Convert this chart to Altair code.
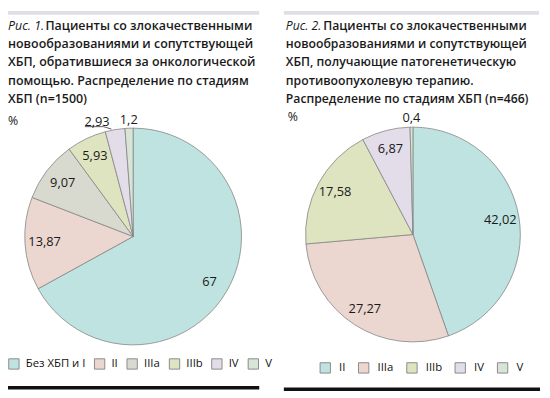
import altair as alt
import pandas as pd

# ---- data ----
left_cats = ["Без ХБП и I", "II", "IIIa", "IIIb", "IV", "V"]
left_vals = [67, 13.87, 9.07, 5.93, 2.93, 1.2]
left_labels = ["67", "13,87", "9,07", "5,93", "2,93", "1,2"]
left_colors = ["#bfe3e0", "#ecd6d0", "#d8d9cf", "#dfe4c0", "#e3dce9", "#d6e5d6"]

right_cats = ["II", "IIIa", "IIIb", "IV", "V"]
right_vals = [42.02, 27.27, 17.58, 6.87, 0.4]
right_labels = ["42,02", "27,27", "17,58", "6,87", "0,4"]
right_colors = ["#bfe3e0", "#ecd6d0", "#dfe4c0", "#e3dce9", "#d6e5d6"]

left_title_lines = ["новообразованиями и сопутствующей",
                    "ХБП, обратившиеся за онкологической",
                    "помощью. Распределение по стадиям",
                    "ХБП (n=1500)"]
left_title_first = "Пациенты со злокачественными"
right_title_lines = ["новообразованиями и сопутствующей",
                     "ХБП, получающие патогенетическую",
                     "противоопухолевую терапию.",
                     "Распределение по стадиям ХБП (n=466)"]
right_title_first = "Пациенты со злокачественными"

FONT = "Open Sans"
TFS_L = 12.6
TFS_R = 12.4
W, H = 542, 390


def pie_df(cats, vals, labels):
    return pd.DataFrame({"cat": cats, "val": vals, "lab": labels,
                         "idx": list(range(len(cats)))})


def pie(df, cats, colors, cx, cy, r, lx, ly, lab_off, col_pad):
    arc = alt.Chart(df).mark_arc(outerRadius=r, stroke="#858585", strokeWidth=0.8).encode(
        theta=alt.Theta("val:Q", stack=True),
        order=alt.Order("idx:Q"),
        x=alt.value(cx), y=alt.value(cy),
        color=alt.Color("cat:N", sort=cats,
                        scale=alt.Scale(domain=cats, range=colors),
                        legend=alt.Legend(orient="none", legendX=lx, legendY=ly,
                                          direction="horizontal", title=None, padding=0,
                                          symbolType="square", symbolSize=110,
                                          symbolStrokeColor="#8a8a8a", symbolStrokeWidth=1,
                                          symbolOpacity=1,
                                          labelFont=FONT, labelFontSize=11.5,
                                          labelColor="#111111", labelOffset=lab_off,
                                          columnPadding=col_pad)),
    )
    base = alt.Chart(df).transform_joinaggregate(
        total="sum(val)"
    ).transform_window(
        cum="sum(val)", sort=[alt.SortField("idx")]
    ).transform_calculate(
        ang="2*PI*(datum.cum - datum.val/2)/datum.total",
        lr="datum.val < 4 ? 118 : 90",
    )
    enc = dict(theta=alt.Theta("ang:Q", scale=None),
               radius=alt.Radius("lr:Q", scale=None),
               x=alt.value(cx), y=alt.value(cy), text="lab:N")
    txt_main = base.transform_filter("datum.val < 2 || datum.val >= 4").mark_text(
        font=FONT, fontSize=13, color="#1a1a1a").encode(**enc)
    txt_shift = base.transform_filter("datum.val >= 2 && datum.val < 4").mark_text(
        font=FONT, fontSize=13, color="#1a1a1a", dx=-17).encode(**enc)
    return [arc, txt_main, txt_shift]


def text_at(x, y, txt, **kw):
    return alt.Chart(pd.DataFrame({"a": [0]})).mark_text(
        text=txt, align="left", baseline="middle", font=FONT, color="#1a1a1a", **kw
    ).encode(x=alt.value(x), y=alt.value(y))


def rule(x, y, x2, y2, color, width):
    return alt.Chart(pd.DataFrame({"a": [0]})).mark_rule(
        color=color, strokeWidth=width).encode(
        x=alt.value(x), y=alt.value(y), x2=alt.value(x2), y2=alt.value(y2))


def rect(x, y, x2, y2, color):
    return alt.Chart(pd.DataFrame({"a": [0]})).mark_rect(color=color).encode(
        x=alt.value(x), y=alt.value(y), x2=alt.value(x2), y2=alt.value(y2))


layers = []
# top bars
layers.append(rect(0, 0, 255, 4, "#e2dee8"))
layers.append(rect(280, 0, 539, 4, "#e2dee8"))
# bottom rules
layers.append(rule(0, 382.5, 255, 382.5, "#111111", 3.5))
layers.append(rule(280, 384, 540, 384, "#111111", 3.5))

# titles
LH = 18.7
layers.append(text_at(0, 15, "Рис. 1.", fontSize=TFS_L, fontStyle="italic"))
layers.append(text_at(38, 15, left_title_first, fontSize=TFS_L, fontWeight=600))
layers.append(alt.Chart(pd.DataFrame({"a": [0]})).mark_text(
    text=left_title_lines, align="left", baseline="middle", font=FONT, fontSize=TFS_L,
    fontWeight=600, lineHeight=LH, color="#1a1a1a").encode(
    x=alt.value(0), y=alt.value(15 + LH)))
layers.append(text_at(282, 15, "Рис. 2.", fontSize=TFS_R, fontStyle="italic"))
layers.append(text_at(320, 15, right_title_first, fontSize=TFS_R, fontWeight=600))
layers.append(alt.Chart(pd.DataFrame({"a": [0]})).mark_text(
    text=right_title_lines, align="left", baseline="middle", font=FONT, fontSize=TFS_R,
    fontWeight=600, lineHeight=LH, color="#1a1a1a").encode(
    x=alt.value(282), y=alt.value(15 + LH)))

# percent signs
layers.append(text_at(0, 112, "%", fontSize=12.5))
layers.append(text_at(284, 108, "%", fontSize=12.5))

# leader line for 2,93
layers.append(rule(78, 117.5, 97, 117.5, "#333333", 0.8))
layers.append(rule(97, 117.5, 105, 120, "#333333", 0.8))

left = alt.layer(*pie(pie_df(left_cats, left_vals, left_labels), left_cats, left_colors,
                      127, 229, 110, 0, 352, 6, 6))
right = alt.layer(*pie(pie_df(right_cats, right_vals, right_labels), right_cats, right_colors,
                       411, 227, 109, 316, 356, 8, 10))

chart = alt.layer(*layers, left, right).resolve_scale(
    theta="independent", color="independent", radius="independent"
).properties(
    width=W, height=H, padding=0, autosize=alt.AutoSizeParams(type="none")
).configure_view(stroke=None)

chart.save("out.html", embed_options={"renderer": "svg", "actions": False})
